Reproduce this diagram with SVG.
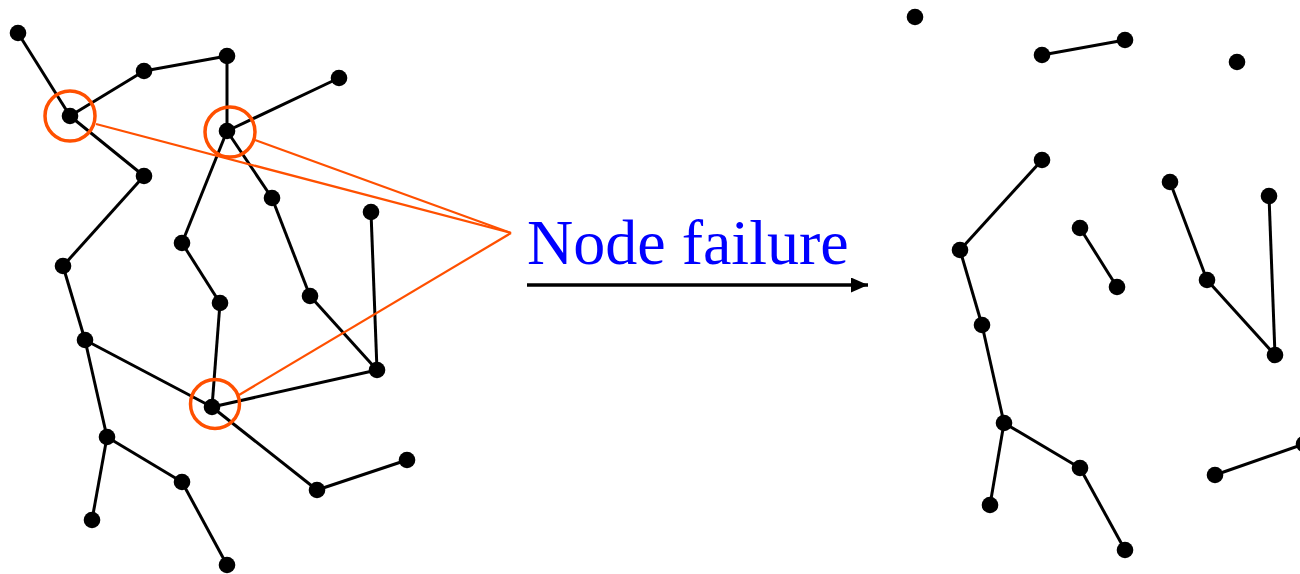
<svg xmlns="http://www.w3.org/2000/svg" width="1300" height="574" viewBox="0 0 1300 574">
<style>
.e{stroke:#000;stroke-width:3;fill:none}
.n{fill:#000}
.hl{fill:none;stroke:#FF5000;stroke-width:3.5}
.cl{stroke:#FF5000;stroke-width:2.2;fill:none}
.t{font-family:"Liberation Serif","Times New Roman",serif;font-size:64px;fill:#0000FF}
</style>
<defs>
<marker id="ah" viewBox="0 0 17 15" refX="17" refY="7.5" markerWidth="17" markerHeight="15" markerUnits="userSpaceOnUse" orient="auto"><path d="M0,0 L17,7.5 L0,15 Z" fill="#000"/></marker>
</defs>
<rect width="1300" height="574" fill="#fff"/>
<g id="connectors">
<line class="e" x1="18" y1="33" x2="70" y2="116"/>
<line class="e" x1="70" y1="116" x2="144" y2="71"/>
<line class="e" x1="144" y1="71" x2="227" y2="56"/>
<line class="e" x1="227" y1="56" x2="227" y2="131"/>
<line class="e" x1="227" y1="131" x2="339" y2="78"/>
<line class="e" x1="70" y1="116" x2="144" y2="176"/>
<line class="e" x1="144" y1="176" x2="63" y2="266"/>
<line class="e" x1="227" y1="131" x2="182" y2="243"/>
<line class="e" x1="227" y1="131" x2="272" y2="198"/>
<line class="e" x1="182" y1="243" x2="220" y2="303"/>
<line class="e" x1="220" y1="303" x2="212" y2="407"/>
<line class="e" x1="272" y1="198" x2="310" y2="296"/>
<line class="e" x1="310" y1="296" x2="377" y2="370"/>
<line class="e" x1="371" y1="212" x2="377" y2="370"/>
<line class="e" x1="63" y1="266" x2="85" y2="340"/>
<line class="e" x1="85" y1="340" x2="212" y2="407"/>
<line class="e" x1="212" y1="407" x2="377" y2="370"/>
<line class="e" x1="212" y1="407" x2="317" y2="490"/>
<line class="e" x1="317" y1="490" x2="407" y2="460"/>
<line class="e" x1="85" y1="340" x2="107" y2="437"/>
<line class="e" x1="107" y1="437" x2="182" y2="482"/>
<line class="e" x1="182" y1="482" x2="227" y2="565"/>
<line class="e" x1="107" y1="437" x2="92" y2="520"/>
<line class="e" x1="1042" y1="55" x2="1125" y2="40"/>
<line class="e" x1="1042" y1="160" x2="960" y2="250"/>
<line class="e" x1="960" y1="250" x2="982" y2="325"/>
<line class="e" x1="982" y1="325" x2="1004" y2="423"/>
<line class="e" x1="1004" y1="423" x2="990" y2="505"/>
<line class="e" x1="1004" y1="423" x2="1080" y2="468"/>
<line class="e" x1="1080" y1="468" x2="1125" y2="550"/>
<line class="e" x1="1080" y1="228" x2="1117" y2="287"/>
<line class="e" x1="1170" y1="182" x2="1207" y2="280"/>
<line class="e" x1="1207" y1="280" x2="1275" y2="355"/>
<line class="e" x1="1269" y1="196" x2="1275" y2="355"/>
<line class="e" x1="1215" y1="475" x2="1304" y2="444"/>
<line class="cl" x1="96" y1="124" x2="511" y2="233"/>
<line class="cl" x1="255" y1="140" x2="511" y2="233"/>
<line class="cl" x1="239" y1="395" x2="511" y2="233"/>
<line x1="527" y1="285" x2="868" y2="285" stroke="#000" stroke-width="3.5" marker-end="url(#ah)"/>
</g>
<g id="left-nodes">
<g id="L1"><circle class="n" cx="18" cy="33" r="8.3"/></g>
<g id="L2"><circle class="n" cx="70" cy="116" r="8.3"/><circle class="hl" cx="70" cy="116" r="25"/></g>
<g id="L3"><circle class="n" cx="144" cy="71" r="8.3"/></g>
<g id="L4"><circle class="n" cx="227" cy="56" r="8.3"/></g>
<g id="L5"><circle class="n" cx="227" cy="131" r="8.3"/><circle class="hl" cx="230" cy="132" r="25"/></g>
<g id="L6"><circle class="n" cx="339" cy="78" r="8.3"/></g>
<g id="L7"><circle class="n" cx="144" cy="176" r="8.3"/></g>
<g id="L8"><circle class="n" cx="63" cy="266" r="8.3"/></g>
<g id="L9"><circle class="n" cx="182" cy="243" r="8.3"/></g>
<g id="L10"><circle class="n" cx="272" cy="198" r="8.3"/></g>
<g id="L11"><circle class="n" cx="371" cy="212" r="8.3"/></g>
<g id="L12"><circle class="n" cx="310" cy="296" r="8.3"/></g>
<g id="L13"><circle class="n" cx="220" cy="303" r="8.3"/></g>
<g id="L14"><circle class="n" cx="85" cy="340" r="8.3"/></g>
<g id="L15"><circle class="n" cx="212" cy="407" r="8.3"/><circle class="hl" cx="215" cy="404" r="24.5"/></g>
<g id="L16"><circle class="n" cx="377" cy="370" r="8.3"/></g>
<g id="L17"><circle class="n" cx="107" cy="437" r="8.3"/></g>
<g id="L18"><circle class="n" cx="182" cy="482" r="8.3"/></g>
<g id="L19"><circle class="n" cx="317" cy="490" r="8.3"/></g>
<g id="L20"><circle class="n" cx="407" cy="460" r="8.3"/></g>
<g id="L21"><circle class="n" cx="92" cy="520" r="8.3"/></g>
<g id="L22"><circle class="n" cx="227" cy="565" r="8.3"/></g>
</g>
<g id="label"><text class="t" x="527" y="264">Node failure</text></g>
<g id="right-nodes">
<g id="R1"><circle class="n" cx="915" cy="17" r="8.3"/></g>
<g id="R2"><circle class="n" cx="1042" cy="55" r="8.3"/></g>
<g id="R3"><circle class="n" cx="1125" cy="40" r="8.3"/></g>
<g id="R4"><circle class="n" cx="1237" cy="62" r="8.3"/></g>
<g id="R5"><circle class="n" cx="1042" cy="160" r="8.3"/></g>
<g id="R6"><circle class="n" cx="960" cy="250" r="8.3"/></g>
<g id="R7"><circle class="n" cx="1080" cy="228" r="8.3"/></g>
<g id="R8"><circle class="n" cx="1117" cy="287" r="8.3"/></g>
<g id="R9"><circle class="n" cx="1170" cy="182" r="8.3"/></g>
<g id="R10"><circle class="n" cx="1269" cy="196" r="8.3"/></g>
<g id="R11"><circle class="n" cx="1207" cy="280" r="8.3"/></g>
<g id="R12"><circle class="n" cx="1275" cy="355" r="8.3"/></g>
<g id="R13"><circle class="n" cx="982" cy="325" r="8.3"/></g>
<g id="R14"><circle class="n" cx="1004" cy="423" r="8.3"/></g>
<g id="R15"><circle class="n" cx="1080" cy="468" r="8.3"/></g>
<g id="R16"><circle class="n" cx="990" cy="505" r="8.3"/></g>
<g id="R17"><circle class="n" cx="1125" cy="550" r="8.3"/></g>
<g id="R18"><circle class="n" cx="1215" cy="475" r="8.3"/></g>
<g id="R19"><circle class="n" cx="1304" cy="444" r="8.3"/></g>
</g>
</svg>
